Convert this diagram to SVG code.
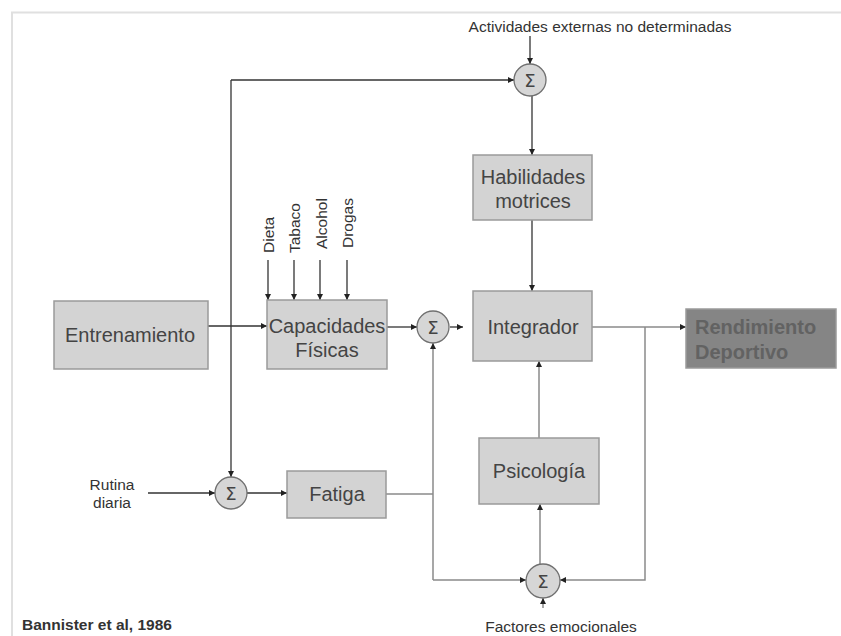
<svg xmlns="http://www.w3.org/2000/svg" width="841" height="636" viewBox="0 0 841 636">
<defs>
<marker id="ah" viewBox="0 0 10 10" refX="10" refY="5" markerWidth="6" markerHeight="6" orient="auto" markerUnits="userSpaceOnUse">
<path d="M0,0 L10,5 L0,10 z" fill="#222"/>
</marker>
<style>
.box{fill:#d3d3d3;stroke:#9a9a9a;stroke-width:1.5}
.dark{fill:#858585;stroke:#9a9a9a;stroke-width:1.5}
.sum{fill:#d6d6d6;stroke:#707070;stroke-width:1.3}
.bt{font-family:"Liberation Sans",Arial,sans-serif;font-size:20px;fill:#444;text-anchor:middle}
.rt{font-family:"Liberation Sans",Arial,sans-serif;font-size:20px;font-weight:bold;fill:#626262}
.st{font-family:"Liberation Sans",Arial,sans-serif;font-size:15.5px;fill:#333}
.sg{font-family:"DejaVu Sans",sans-serif;font-size:18px;fill:#444;text-anchor:middle}
.ln{fill:none;stroke:#333;stroke-width:1.3}
.lg{fill:none;stroke:#8a8a8a;stroke-width:1.5}
.fr{fill:none;stroke:#e0e0e0;stroke-width:2}
</style>
</defs>
<rect width="841" height="636" fill="#fff"/>
<path class="fr" d="M12,636 L12,12.5 L841,12.5"/>

<g id="connectors">
<path class="ln" d="M530,36 L530,64" marker-end="url(#ah)"/>
<path class="ln" d="M231,80 L514,80" marker-end="url(#ah)"/>
<path class="ln" d="M231,80 L231,477" marker-end="url(#ah)"/>
<path class="ln" d="M532,96 L532,155" marker-end="url(#ah)"/>
<path class="ln" d="M532,220 L532,291" marker-end="url(#ah)"/>
<path class="ln" d="M208,326 L267,326" marker-end="url(#ah)"/>
<path class="ln" d="M268,260 L268,300" marker-end="url(#ah)"/>
<path class="ln" d="M294,260 L294,300" marker-end="url(#ah)"/>
<path class="ln" d="M320,260 L320,300" marker-end="url(#ah)"/>
<path class="ln" d="M347,260 L347,300" marker-end="url(#ah)"/>
<path class="ln" d="M387,327 L417,327" marker-end="url(#ah)"/>
<path class="ln" d="M450,327 L463,327" marker-end="url(#ah)"/>
<path class="lg" d="M592,327 L686,327" marker-end="url(#ah)"/>
<path class="lg" d="M645,327 L645,580 L560,580" marker-end="url(#ah)"/>
<path class="lg" d="M433,580 L526,580" marker-end="url(#ah)"/>
<path class="lg" d="M433,580 L433,343" marker-end="url(#ah)"/>
<path class="lg" d="M386,494 L433,494"/>
<path class="ln" d="M148,493 L215,493" marker-end="url(#ah)"/>
<path class="ln" d="M247,493 L287,493" marker-end="url(#ah)"/>
<path class="lg" d="M540,564 L540,504" marker-end="url(#ah)"/>
<path class="lg" d="M539,438 L539,361" marker-end="url(#ah)"/>
<path class="lg" d="M543,608 L543,598" marker-end="url(#ah)"/>
</g>

<g id="sum-top"><circle class="sum" cx="530" cy="80" r="16"/><text class="sg" x="530" y="86.5">Σ</text></g>
<g id="sum-mid"><circle class="sum" cx="433" cy="327" r="16"/><text class="sg" x="433" y="333.5">Σ</text></g>
<g id="sum-fatiga"><circle class="sum" cx="231" cy="493" r="16"/><text class="sg" x="231" y="499.5">Σ</text></g>
<g id="sum-bottom"><circle class="sum" cx="543" cy="581" r="17"/><text class="sg" x="543" y="587.5">Σ</text></g>

<g id="actividades"><text class="st" x="600" y="32" text-anchor="middle">Actividades externas no determinadas</text></g>

<g id="habilidades"><rect class="box" x="473" y="155" width="119" height="65"/>
<text class="bt" x="533" y="184">Habilidades</text><text class="bt" x="533" y="208">motrices</text></g>

<g id="integrador"><rect class="box" x="473" y="291" width="119" height="70"/>
<text class="bt" x="533" y="334">Integrador</text></g>

<g id="rendimiento"><rect class="dark" x="686" y="309" width="150" height="59"/>
<text class="rt" x="695" y="334">Rendimiento</text><text class="rt" x="695" y="359">Deportivo</text></g>

<g id="entrenamiento"><rect class="box" x="54" y="301" width="154" height="68"/>
<text class="bt" x="130" y="342">Entrenamiento</text></g>

<g id="capacidades"><rect class="box" x="267" y="300" width="120" height="69"/>
<text class="bt" x="327" y="333">Capacidades</text><text class="bt" x="327" y="357">Físicas</text></g>

<g id="factores-cap">
<text class="st" transform="translate(274,253) rotate(-90)">Dieta</text>
<text class="st" transform="translate(300,253) rotate(-90)">Tabaco</text>
<text class="st" transform="translate(327,249) rotate(-90)">Alcohol</text>
<text class="st" transform="translate(353,248) rotate(-90)">Drogas</text>
</g>

<g id="rutina"><text class="st" x="112" y="490" text-anchor="middle">Rutina</text><text class="st" x="112" y="508" text-anchor="middle">diaria</text></g>

<g id="fatiga"><rect class="box" x="287" y="471" width="99" height="47"/>
<text class="bt" x="337" y="501">Fatiga</text></g>

<g id="psicologia"><rect class="box" x="479" y="438" width="120" height="66"/>
<text class="bt" x="539" y="478">Psicología</text></g>

<g id="factores-emocionales"><text class="st" x="561" y="632" text-anchor="middle">Factores emocionales</text></g>

<g id="citation"><text class="st" x="22" y="630" font-weight="bold" font-size="15px">Bannister et al, 1986</text></g>
</svg>
